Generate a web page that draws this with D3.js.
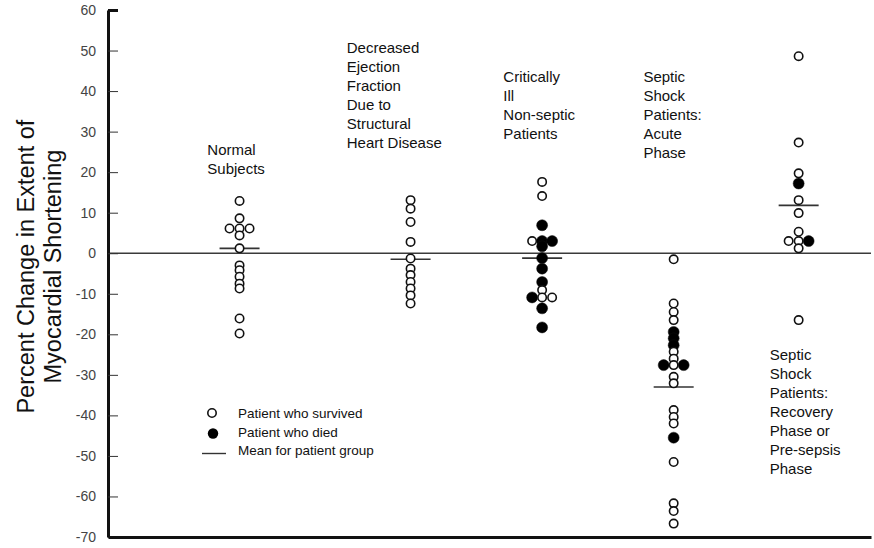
<!DOCTYPE html>
<html>
<head>
<meta charset="utf-8">
<script src="https://cdn.jsdelivr.net/npm/d3@7"></script>
<style>
  html, body { margin: 0; padding: 0; background: #fff; }
  svg { display: block; font-family: "Liberation Sans", Arial, sans-serif; }
</style>
</head>
<body>
<svg id="chart" width="874" height="548"></svg>
<script>
// Percent change in extent of myocardial shortening, by patient group.
// Outcome flags: 0 = survived (open circle), 1 = died (filled circle).

const groupNames = ["Normal Subjects", "Decreased Ejection Fraction", "Critically Ill Non-septic",
                    "Septic Shock Acute", "Septic Shock Recovery"];
const groupX = [1, 2.3, 3.3, 4.3, 5.25];

const normalValues = [12.9, 8.6, 6.1, 6.1, 6.1, 4.4, 1.2, -3.0, -4.2, -5.8, -7.5, -8.7, -16.1, -19.8];
const normalDied   = [0, 0, 0, 0, 0, 0, 0, 0, 0, 0, 0, 0, 0, 0];

const decreasedEfValues = [13.1, 11.0, 7.7, 2.8, -1.3, -3.8, -5.4, -7.1, -8.7, -10.4, -12.4];
const decreasedEfDied   = [0, 0, 0, 0, 0, 0, 0, 0, 0, 0, 0];

const criticalValues = [17.6, 14.1, 6.9, 3.0, 3.0, 3.0, 1.7, -1.2, -3.8, -7.1, -9.1, -10.9, -10.9, -10.9, -13.6, -18.3];
const criticalDied   = [0, 0, 1, 1, 0, 1, 1, 1, 1, 1, 0, 0, 1, 0, 1, 1];

const acuteValues = [-1.5, -12.4, -14.5, -16.5, -19.4, -21.0, -22.7, -24.3, -26.0, -27.6, -27.6, -27.6,
                     -30.5, -32.1, -38.7, -40.4, -42.0, -45.5, -51.5, -61.7, -63.6, -66.7];
const acuteDied   = [0, 0, 0, 0, 1, 1, 1, 0, 0, 0, 1, 1, 0, 0, 0, 0, 0, 1, 0, 0, 0, 0];

const recoveryValues = [48.6, 27.3, 19.7, 17.2, 13.1, 9.9, 5.3, 3.0, 3.0, 3.0, 1.2, -16.5];
const recoveryDied   = [0, 0, 0, 1, 0, 0, 0, 0, 0, 1, 0, 0];

const groupMeans = [1.2, -1.5, -1.2, -33.0, 11.8];

const yTicks = [60, 50, 40, 30, 20, 10, 0, -10, -20, -30, -40, -50, -60, -70];

// Category captions: lines, anchor in axis units (x of text start, y of first baseline)
const captionLines = [
  ["Normal", "Subjects"],
  ["Decreased", "Ejection", "Fraction", "Due to", "Structural", "Heart Disease"],
  ["Critically", "Ill", "Non-septic", "Patients"],
  ["Septic", "Shock", "Patients:", "Acute", "Phase"],
  ["Septic", "Shock", "Patients:", "Recovery", "Phase or", "Pre-sepsis", "Phase"]
];
const captionX = [0.755, 1.815, 3.005, 4.07, 5.03];
const captionY = [24.3, 49.3, 42.2, 42.2, -26.4];

const legendLabels = ["Patient who survived", "Patient who died", "Mean for patient group"];

const yTitleLines = ["Percent Change in Extent of", "Myocardial Shortening"];

// ---------------------------------------------------------------------------
const svg = d3.select("#chart");

const y = d3.scaleLinear().domain([-70, 60]).range([537, 10]);
const x = d3.scaleLinear().domain([0, 5.8]).range([108, 871]);

const groups = [
  {values: normalValues, died: normalDied},
  {values: decreasedEfValues, died: decreasedEfDied},
  {values: criticalValues, died: criticalDied},
  {values: acuteValues, died: acuteDied},
  {values: recoveryValues, died: recoveryDied}
].map((g, i) => ({...g, name: groupNames[i], gx: groupX[i], mean: groupMeans[i]}));

// Zero reference line
svg.append("line")
  .attr("x1", x(0)).attr("x2", x(5.8))
  .attr("y1", y(0)).attr("y2", y(0))
  .attr("stroke", "#3a3a3a").attr("stroke-width", 1.3);

// Y axis with inward ticks
const yAxis = svg.append("g")
  .attr("transform", `translate(${x(0)},0)`)
  .call(d3.axisLeft(y).tickValues(yTicks).tickSizeInner(-10).tickSizeOuter(0).tickPadding(12)
        .tickFormat(d => String(d)));
yAxis.select(".domain").attr("stroke", "#111").attr("stroke-width", 3);
yAxis.selectAll(".tick line").attr("stroke", "#333").attr("stroke-width", 1);
yAxis.selectAll(".tick text").attr("font-size", 14).attr("fill", "#444")
  .attr("font-family", "\"Liberation Sans\", Arial, sans-serif");
yAxis.selectAll(".tick").filter(d => d === 60).select("line").attr("stroke-width", 3).attr("stroke", "#111");

// Bottom axis line
const xAxis = svg.append("g")
  .attr("transform", `translate(0,${y(-70)})`)
  .call(d3.axisBottom(x).tickValues([]).tickSizeOuter(0));
xAxis.select(".domain").attr("stroke", "#111").attr("stroke-width", 3);

// Y axis title
const yTitle = svg.append("text")
  .attr("transform", `translate(0,${y(-3.3)}) rotate(-90)`)
  .attr("text-anchor", "middle")
  .attr("font-size", 23.5)
  .attr("fill", "#111");
yTitle.selectAll("tspan").data(yTitleLines).join("tspan")
  .attr("x", 0)
  .attr("y", (d, i) => 34 + i * 27)
  .text(d => d);

// Dodge points that would sit on top of each other into side columns
function layoutPoints(g) {
  const placed = [];
  const slots = [0, -1, 1, -2, 2];
  g.values.forEach((v, i) => {
    const py = y(v);
    const slot = slots.find(s => !placed.some(p => p.slot === s && Math.abs(p.py - py) < 4));
    placed.push({value: v, died: g.died[i], py, slot});
  });
  return placed;
}

const pointLayer = svg.append("g");
groups.forEach(g => {
  const cx = x(g.gx);
  const pts = layoutPoints(g);
  // Mean bar
  pointLayer.append("line")
    .attr("x1", cx - 20).attr("x2", cx + 20)
    .attr("y1", y(g.mean)).attr("y2", y(g.mean))
    .attr("stroke", "#333").attr("stroke-width", 1.6);
  pointLayer.append("g").selectAll("circle").data(pts).join("circle")
    .attr("cx", d => cx + d.slot * 10)
    .attr("cy", d => d.py)
    .attr("r", d => d.died ? 5.5 : 4.2)
    .attr("fill", d => d.died ? "#000" : "#fff")
    .attr("stroke", "#111")
    .attr("stroke-width", d => d.died ? 0.5 : 1.6);
});

// Captions
captionLines.forEach((lines, i) => {
  const t = svg.append("text")
    .attr("font-size", 15)
    .attr("fill", "#111");
  t.selectAll("tspan").data(lines).join("tspan")
    .attr("x", x(captionX[i]))
    .attr("y", (d, k) => y(captionY[i]) + k * 18.9)
    .text(d => d);
});

// Legend
const legend = svg.append("g");
const legendRows = [413, 431.5, 449.5];
legend.append("circle").attr("cx", 212).attr("cy", legendRows[0]).attr("r", 4.2)
  .attr("fill", "#fff").attr("stroke", "#111").attr("stroke-width", 1.6);
legend.append("circle").attr("cx", 213).attr("cy", legendRows[1] + 2).attr("r", 5.2).attr("fill", "#000");
legend.append("line").attr("x1", 202).attr("x2", 226)
  .attr("y1", legendRows[2] + 4).attr("y2", legendRows[2] + 4)
  .attr("stroke", "#333").attr("stroke-width", 1.4);
legend.selectAll("text").data(legendLabels).join("text")
  .attr("x", 238)
  .attr("y", (d, i) => legendRows[i] + 5)
  .attr("font-size", 13.5)
  .attr("fill", "#111")
  .text(d => d);
</script>
</body>
</html>
